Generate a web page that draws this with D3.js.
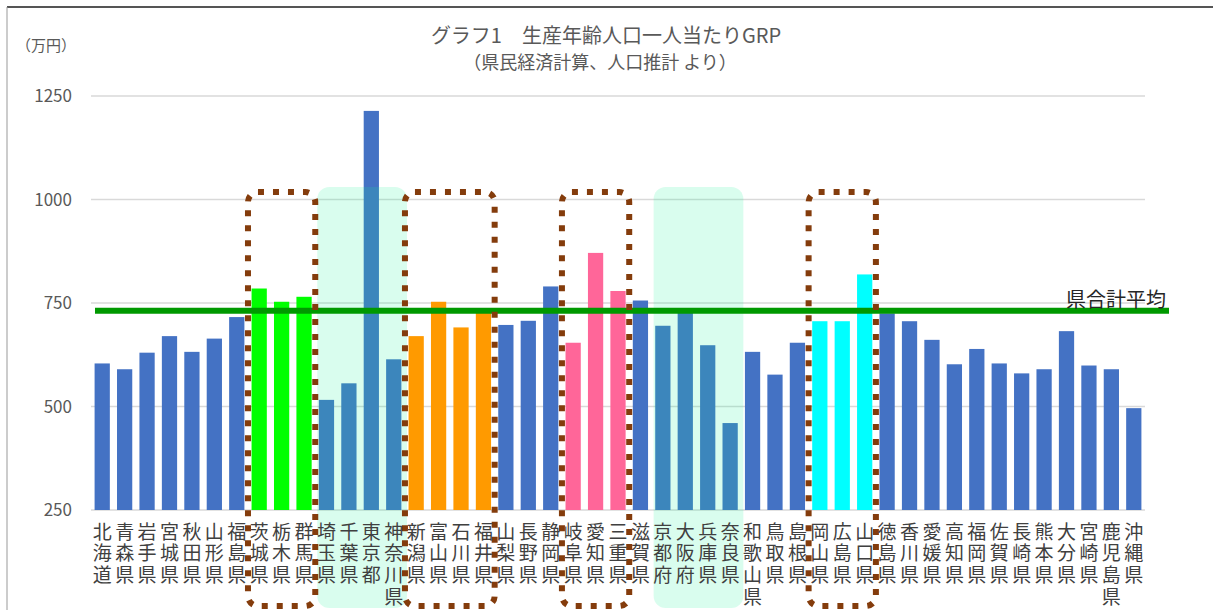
<!DOCTYPE html>
<html lang="ja">
<head>
<meta charset="utf-8">
<title>グラフ1 生産年齢人口一人当たりGRP</title>
<script src="https://d3js.org/d3.v7.min.js"></script>
<style>
  body { margin: 0; background: #fff; }
  text { font-family: "Noto Sans CJK JP", "Noto Sans", sans-serif; }
  .xlab { writing-mode: vertical-rl; text-orientation: upright; letter-spacing: 2.7px; }
</style>
</head>
<body>
<script>
// prefectures (label text) and values in 万円
var prefs = ["北海道","青森県","岩手県","宮城県","秋田県","山形県","福島県",
  "茨城県","栃木県","群馬県","埼玉県","千葉県","東京都","神奈川県",
  "新潟県","富山県","石川県","福井県","山梨県","長野県","静岡県",
  "岐阜県","愛知県","三重県","滋賀県","京都府","大阪府","兵庫県","奈良県","和歌山県",
  "鳥取県","島根県","岡山県","広島県","山口県",
  "徳島県","香川県","愛媛県","高知県",
  "福岡県","佐賀県","長崎県","熊本県","大分県","宮崎県","鹿児島県","沖縄県"];
var values = [604,590,630,670,632,664,716,
  785,753,765,516,556,1214,614,
  670,753,691,730,697,707,790,
  654,871,779,756,695,728,648,460,632,
  577,654,706,706,819,
  725,706,661,602,
  639,604,580,590,682,599,590,496];
var average = 731;
var yTicks = [250,500,750,1000,1250];

// highlighted groups
var greenGroup  = ["茨城県","栃木県","群馬県"];
var orangeGroup = ["新潟県","富山県","石川県","福井県"];
var pinkGroup   = ["岐阜県","愛知県","三重県"];
var cyanGroup   = ["岡山県","広島県","山口県"];
var mintGroups  = [["埼玉県","神奈川県"],["京都府","奈良県"]];
var dotGroups   = [["茨城県","群馬県"],["新潟県","福井県"],["岐阜県","三重県"],["岡山県","山口県"]];

var w = 1213, h = 610;
var svg = d3.select("body").append("svg").attr("width", w).attr("height", h);

var x = d3.scaleBand().domain(prefs).range([91, 1145]).paddingInner(0.32).paddingOuter(0.16);
var y = d3.scaleLinear().domain([250, 1250]).range([510, 96]);

function barColor(p) {
  if (greenGroup.indexOf(p) >= 0) return "#00ff00";
  if (orangeGroup.indexOf(p) >= 0) return "#ff9a00";
  if (pinkGroup.indexOf(p) >= 0) return "#ff6699";
  if (cyanGroup.indexOf(p) >= 0) return "#00ffff";
  return "#4472c4";
}
function bandStart(p) { return x(p) - x.step() * x.paddingInner() / 2; }
function bandEnd(p) { return x(p) + x.bandwidth() + x.step() * x.paddingInner() / 2; }

// frame
svg.append("line").attr("x1", 7).attr("x2", w).attr("y1", 7).attr("y2", 7)
  .attr("stroke", "#555").attr("stroke-width", 2);
svg.append("line").attr("x1", 7).attr("x2", 7).attr("y1", 7).attr("y2", h)
  .attr("stroke", "#999").attr("stroke-width", 1);

// titles
svg.append("text").attr("x", 606).attr("y", 43).attr("text-anchor", "middle")
  .attr("font-size", 20).attr("fill", "#595959").text("グラフ1　生産年齢人口一人当たりGRP");
svg.append("text").attr("x", 600).attr("y", 69).attr("text-anchor", "middle")
  .attr("font-size", 18).attr("fill", "#595959").text("（県民経済計算、人口推計 より）");
svg.append("text").attr("x", 16).attr("y", 51)
  .attr("font-size", 15).attr("fill", "#595959").text("（万円）");

// gridlines + y tick labels
svg.selectAll("line.grid").data(yTicks).enter().append("line")
  .attr("class", "grid")
  .attr("x1", 91).attr("x2", 1145)
  .attr("y1", function(d) { return y(d); }).attr("y2", function(d) { return y(d); })
  .attr("stroke", "#d9d9d9").attr("stroke-width", 1.5);
svg.selectAll("text.ytick").data(yTicks).enter().append("text")
  .attr("class", "ytick")
  .attr("x", 72).attr("y", function(d) { return y(d) + 6; })
  .attr("text-anchor", "end").attr("font-size", 17).attr("fill", "#595959")
  .text(function(d) { return d; });

// bars
svg.selectAll("rect.bar").data(prefs).enter().append("rect")
  .attr("class", "bar")
  .attr("x", function(d) { return x(d); })
  .attr("width", x.bandwidth())
  .attr("y", function(d, i) { return y(values[i]); })
  .attr("height", function(d, i) { return y(250) - y(values[i]); })
  .attr("fill", function(d) { return barColor(d); });

// mint shaded areas
svg.selectAll("rect.mint").data(mintGroups).enter().append("rect")
  .attr("class", "mint")
  .attr("x", function(d) { return bandStart(d[0]) + 2; })
  .attr("width", function(d) { return bandEnd(d[1]) - bandStart(d[0]); })
  .attr("y", 187).attr("height", 421).attr("rx", 12)
  .attr("fill", "rgb(20,240,150)").attr("fill-opacity", 0.16);

// average line
svg.append("line").attr("x1", 95).attr("x2", 1169)
  .attr("y1", y(average)).attr("y2", y(average))
  .attr("stroke", "#009900").attr("stroke-width", 6);
svg.append("text").attr("x", 1066).attr("y", 307)
  .attr("font-size", 20).attr("fill", "#262626").text("県合計平均");

// dotted boxes
svg.selectAll("rect.dots").data(dotGroups).enter().append("rect")
  .attr("class", "dots")
  .attr("x", function(d) { return bandStart(d[0]); })
  .attr("width", function(d) { return bandEnd(d[1]) - bandStart(d[0]); })
  .attr("y", 192).attr("height", 414).attr("rx", 10)
  .attr("fill", "none").attr("stroke", "#843c0c")
  .attr("stroke-width", 6).attr("stroke-dasharray", "6,9");

// vertical category labels (vertical writing mode, one glyph per row)
svg.selectAll("text.xlab").data(prefs).enter().append("text")
  .attr("class", "xlab")
  .attr("x", function(d) { return x(d) + x.bandwidth() / 2; })
  .attr("y", 522)
  .attr("font-size", 19).attr("fill", "#404040")
  .text(function(d) { return d; });
</script>
</body>
</html>
